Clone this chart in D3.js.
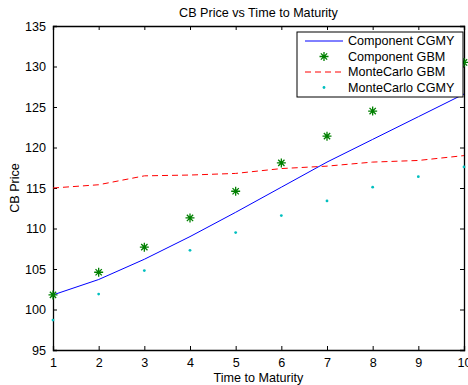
<!DOCTYPE html>
<html>
<head>
<meta charset="utf-8">
<script src="https://cdn.jsdelivr.net/npm/d3@7"></script>
<style>
  body { margin: 0; background: #fff; }
  text { font-family: "Liberation Sans", Arial, sans-serif; fill: #000; }
</style>
</head>
<body>
<div id="chart"></div>
<script>
const w = 468;
const h = 385;

const margin = { top: 26, right: 4, bottom: 35, left: 53 };
const width = w - margin.left - margin.right;
const height = h - margin.top - margin.bottom;
const fontSize = "12.6px";

// data
const maturity = [1, 2, 3, 4, 5, 6, 7, 8, 9, 10];
const componentCGMY = [101.8, 103.7, 106.2, 109.0, 112.0, 115.1, 118.2, 121.0, 123.8, 126.6];
const componentGBM = [101.8, 104.6, 107.7, 111.3, 114.6, 118.1, 121.4, 124.5, 127.5, 130.5];
const monteCarloGBM = [115.0, 115.4, 116.5, 116.6, 116.8, 117.4, 117.7, 118.2, 118.4, 119.0];
const monteCarloCGMY = [98.7, 101.9, 104.8, 107.3, 109.5, 111.6, 113.4, 115.1, 116.4, 117.6];
const xTicks = [1, 2, 3, 4, 5, 6, 7, 8, 9, 10];
const yTicks = [95, 100, 105, 110, 115, 120, 125, 130, 135];
const legendNames = ["Component CGMY", "Component GBM", "MonteCarlo GBM", "MonteCarlo CGMY"];

const svg = d3.select("#chart")
    .append("svg")
    .attr("width", w)
    .attr("height", h);

const g = svg.append("g")
    .attr("transform", "translate(" + margin.left + "," + margin.top + ")");

const x = d3.scaleLinear().domain([1, 10]).range([0, width]);
const y = d3.scaleLinear().domain([95, 135]).range([height, 0]);

// axes with inward ticks on all four sides
const tickLen = 4;
g.append("g")
    .attr("transform", "translate(0," + height + ")")
    .call(d3.axisBottom(x).tickValues(xTicks).tickSize(-tickLen).tickPadding(8).tickFormat(d3.format("d")));
g.append("g")
    .call(d3.axisTop(x).tickValues(xTicks).tickSize(-tickLen).tickFormat(""));
g.append("g")
    .call(d3.axisLeft(y).tickValues(yTicks).tickSize(-tickLen).tickPadding(7).tickFormat(d3.format("d")));
g.append("g")
    .attr("transform", "translate(" + width + ",0)")
    .call(d3.axisRight(y).tickValues(yTicks).tickSize(-tickLen).tickFormat(""));

g.selectAll(".domain").attr("stroke", "#000").attr("stroke-width", 1.3);
g.selectAll(".tick line").attr("stroke", "#000");
g.selectAll(".tick text").style("font-size", fontSize).attr("fill", "#000");

const pts = arr => maturity.map((m, i) => [m, arr[i]]);

const line = d3.line()
    .x(d => x(d[0]))
    .y(d => y(d[1]));

// MonteCarlo GBM - red dashed
g.append("path")
    .datum(pts(monteCarloGBM))
    .attr("d", line)
    .attr("fill", "none")
    .attr("stroke", "#ff0000")
    .attr("stroke-width", 1)
    .attr("stroke-dasharray", "6,4");

// Component CGMY - blue line
g.append("path")
    .datum(pts(componentCGMY))
    .attr("d", line)
    .attr("fill", "none")
    .attr("stroke", "#0000ff")
    .attr("stroke-width", 1);

// asterisk marker
function star(sel, r) {
    sel.append("path")
        .attr("d", "M" + (-r) + ",0H" + r + "M0," + (-r) + "V" + r +
            "M" + (-r * 0.7) + "," + (-r * 0.7) + "L" + (r * 0.7) + "," + (r * 0.7) +
            "M" + (-r * 0.7) + "," + (r * 0.7) + "L" + (r * 0.7) + "," + (-r * 0.7))
        .attr("stroke", "#008000")
        .attr("stroke-width", 1.3)
        .attr("fill", "none");
}

g.selectAll(".gbm")
    .data(pts(componentGBM))
    .enter()
    .append("g")
    .attr("class", "gbm")
    .attr("transform", d => "translate(" + x(d[0]) + "," + y(d[1]) + ")")
    .call(star, 4.5);

g.selectAll(".mccgmy")
    .data(pts(monteCarloCGMY))
    .enter()
    .append("circle")
    .attr("class", "mccgmy")
    .attr("cx", d => x(d[0]))
    .attr("cy", d => y(d[1]))
    .attr("r", 1.4)
    .attr("fill", "#00bfbf");

// legend
const lg = g.append("g").attr("transform", "translate(" + (width - 167) + ",6)");
lg.append("rect")
    .attr("width", 166)
    .attr("height", 65)
    .attr("fill", "#fff")
    .attr("stroke", "#000")
    .attr("stroke-width", 1);

legendNames.forEach(function(name, i) {
    const ly = 9 + i * 15.5;
    const item = lg.append("g").attr("transform", "translate(0," + ly + ")");
    if (i === 0) {
        item.append("line").attr("x1", 8).attr("x2", 46).attr("stroke", "#0000ff");
    } else if (i === 1) {
        item.append("g").attr("transform", "translate(27,0)").call(star, 4.5);
    } else if (i === 2) {
        item.append("line").attr("x1", 8).attr("x2", 46).attr("stroke", "#ff0000").attr("stroke-dasharray", "6,4");
    } else {
        item.append("circle").attr("cx", 27).attr("r", 1.4).attr("fill", "#00bfbf");
    }
    item.append("text")
        .attr("x", 51)
        .attr("dy", "0.35em")
        .style("font-size", fontSize)
        .text(name);
});

// title and labels
svg.append("text")
    .attr("x", margin.left + width / 2)
    .attr("y", 17)
    .attr("text-anchor", "middle")
    .style("font-size", fontSize)
    .text("CB Price vs Time to Maturity");

svg.append("text")
    .attr("x", margin.left + width / 2)
    .attr("y", 382)
    .attr("text-anchor", "middle")
    .style("font-size", fontSize)
    .text("Time to Maturity");

svg.append("text")
    .attr("transform", "translate(19," + (margin.top + height / 2) + ") rotate(-90)")
    .attr("text-anchor", "middle")
    .style("font-size", fontSize)
    .text("CB Price");
</script>
</body>
</html>
